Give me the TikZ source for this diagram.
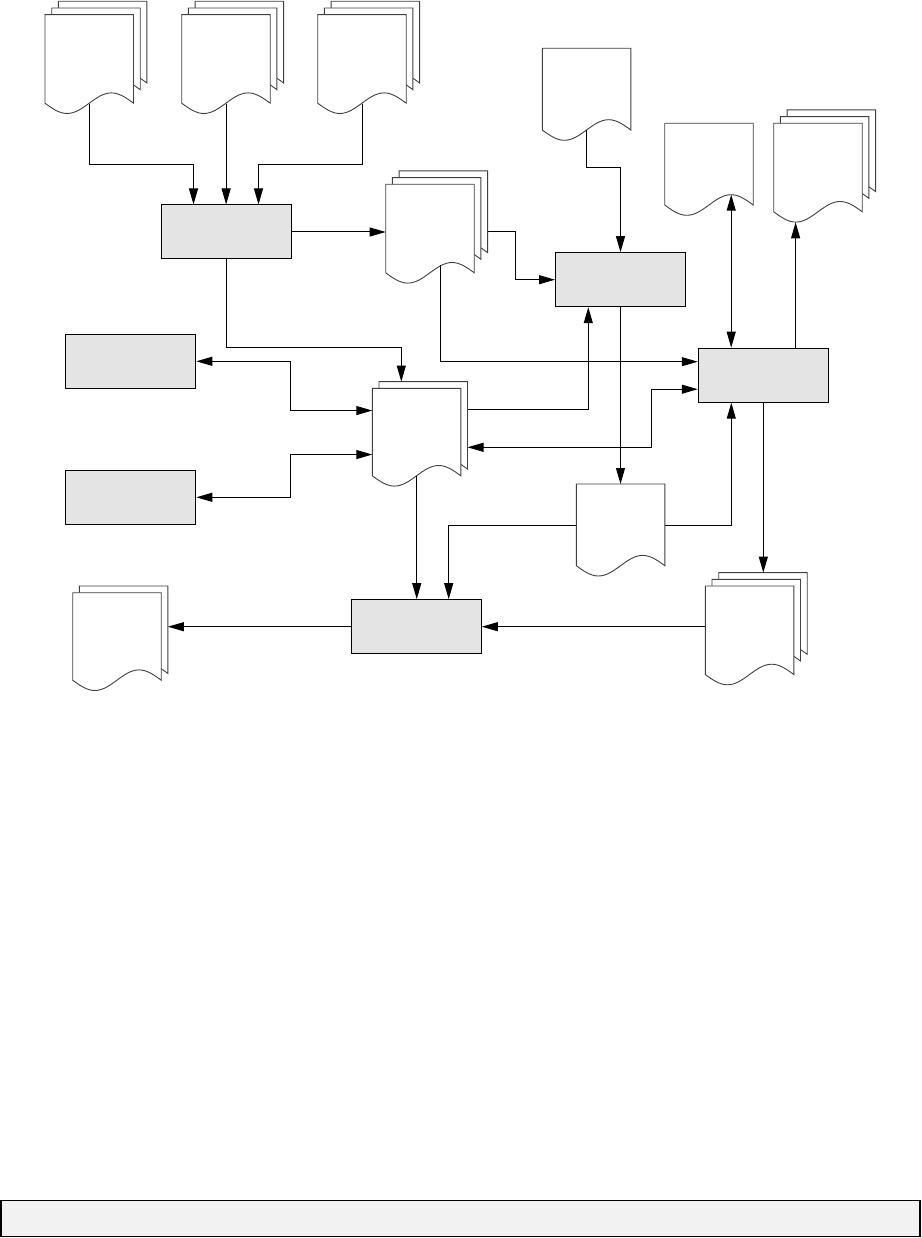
\documentclass[tikz,border=0pt]{standalone}
\usetikzlibrary{arrows.meta}
\definecolor{boxgray}{RGB}{228,228,228}
\definecolor{bargray}{RGB}{242,242,242}
\tikzset{
  procbox/.style={draw=black, line width=1pt, fill=boxgray, minimum width=130pt, minimum height=54pt, inner sep=0pt},
  docline/.style={draw=black!75, line width=0.9pt, fill=white},
  docnode/.style={inner sep=0pt, anchor=north west, minimum width=88.5pt},
  conn/.style={draw=black, line width=1pt},
  arr/.style={conn, -{Triangle[length=16pt,width=9pt]}},
  darr/.style={conn, {Triangle[length=16pt,width=9pt]}-{Triangle[length=16pt,width=9pt]}},
}
\newcommand\pg[3]{%
  \filldraw[docline] (#1,#2) -- ++(88.5,0) -- ++(0,#3) sin ++(-22.125,-10.3) cos ++(-22.125,10.3) sin ++(-22.125,10.3) cos ++(-22.125,-10.3) -- cycle;}
\newcommand\docthree[3]{%
  \pg{#2+13.4}{#3-13.4}{81.7}\pg{#2+6.7}{#3-6.7}{81.7}\pg{#2}{#3}{88.5}%
  \node[docnode, minimum height=88.5pt] (#1) at (#2,#3) {};}
\newcommand\doctwo[3]{%
  \pg{#2+6.7}{#3-6.7}{87.5}\pg{#2}{#3}{87.5}%
  \node[docnode, minimum height=87.5pt] (#1) at (#2,#3) {};}
\newcommand\docone[3]{%
  \pg{#2}{#3}{81.7}%
  \node[docnode, minimum height=81.7pt] (#1) at (#2,#3) {};}
\begin{document}
\begin{tikzpicture}[x=1pt,y=-1pt]
\useasboundingbox (0,0) rectangle (921,1238);
% documents
\docthree{d1}{45}{14.7}
\docthree{d2}{181.7}{14.7}
\docthree{d3}{317.7}{14.7}
\docthree{d4}{385.7}{184.3}
\doctwo{d5}{372.3}{388.3}
\docone{d6}{542.3}{48.3}
\docone{d7}{664.7}{123.3}
\docthree{d8}{773.7}{123.3}
\docone{d9}{576.3}{484}
\docthree{d10}{705.3}{586}
\doctwo{d11}{72.7}{592.7}
% process boxes
\node[procbox] (A) at (226,232) {};
\node[procbox] (B) at (620.5,279.7) {};
\node[procbox] (C) at (763.3,375.2) {};
\node[procbox] (D) at (416.3,626.7) {};
\node[procbox] (E) at (130.8,361.3) {};
\node[procbox] (F) at (130.8,497.3) {};
% special points on documents
\coordinate (d4r) at (487.6,232);
\coordinate (d4w) at (440.7,265.3);
\coordinate (d5t) at (401.3,381.6);
\coordinate (d5r1) at (467.5,409.3);
\coordinate (d5r2) at (467.5,447.3);
\coordinate (d7c) at (731.2,194.7);
\coordinate (d8tr) at (795.6,222.3);
\coordinate (d10t) at (763.3,572.6);
\coordinate (d11r) at (167.9,627);
% connectors
\draw[arr] (d1.south) -- ++(0,60.8) -| ([xshift=-32.5pt]A.north);
\draw[arr] (d2.south) -- (d2.south |- A.north);
\draw[arr] (d3.south) -- ++(0,60.8) -| ([xshift=32.5pt]A.north);
\draw[arr] (A.east) -- (A.east -| d4.west);
\draw[arr] (A.south) -- ++(0,88.3) -| (d5t);
\draw[arr] (d4r) -- ++(27.7,0) |- (B.west);
\draw[arr] (d4w) |- ([yshift=13.5pt]C.west);
\draw[arr] (d6.south) -- ++(0,37) -| (B.north);
\draw[darr] (d7c) -- (d7c |- C.north);
\draw[arr] (d8tr |- C.north) -- (d8tr);
\draw[arr] (B.south) -- (B.south |- d9.north);
\draw[arr] (d5r1) -| ([xshift=-32.2pt]B.south);
\draw[darr] (d5r2) -- ++(183.8,0) |- ([yshift=-14pt]C.west);
\draw[arr] (d9.east) -| ([xshift=-32pt]C.south);
\draw[arr] (C.south) -- (C.south |- d10t);
\draw[arr] (D.east -| d10.west) -- (D.east);
\draw[arr] (d5.south) -- (d5.south |- D.north);
\draw[arr] (d9.west) -| ([xshift=32.4pt]D.north);
\draw[arr] (D.west) -- (D.west -| d11r);
\draw[darr] ([yshift=21.7pt]d5.west) -- ++(-82,0) |- (E.east);
\draw[darr] ([yshift=-22.3pt]d5.west) -- ++(-82,0) |- (F.east);
% bottom bar
\draw[line width=1.5pt, fill=bargray] (1,1200.5) rectangle (919.8,1236.7);
\end{tikzpicture}
\end{document}
